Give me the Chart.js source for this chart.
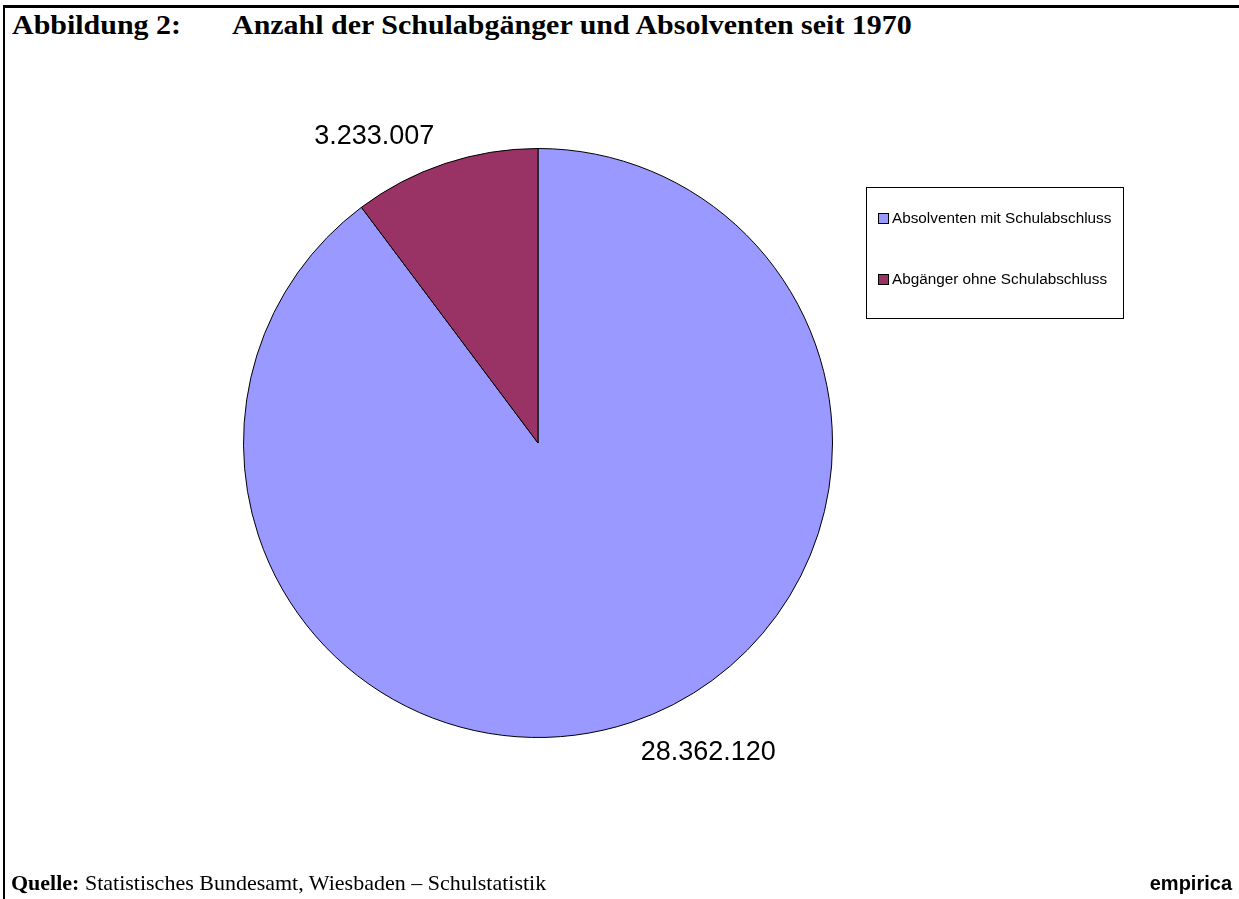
<!DOCTYPE html>
<html lang="de">
<head>
<meta charset="utf-8">
<title>Abbildung 2</title>
<script src="https://cdn.jsdelivr.net/npm/chart.js@4.4.1/dist/chart.umd.min.js"></script>
<style>
  html, body { margin: 0; padding: 0; background: #fff; }
  #page { position: relative; width: 1239px; height: 899px; overflow: hidden; }
  #frame { position: absolute; left: 3px; top: 5px; width: 1236px; height: 892px;
           border-top: 3px solid #000; border-left: 2px solid #000; }
  .title { position: absolute; top: 11px; font: bold 28px/28px "Liberation Serif", "Times New Roman", serif;
           white-space: nowrap; transform: scaleX(1.07); transform-origin: left top; }
  #t1 { left: 12px; }
  #t2 { left: 232px; }
  #source { position: absolute; left: 11px; top: 872px; font: 22px/22px "Liberation Serif", "Times New Roman", serif; white-space: nowrap; }
  #brand { position: absolute; right: 7px; top: 873px; font: bold 20px/20px "Liberation Sans", Arial, sans-serif; }
  canvas { position: absolute; left: 0; top: 0; }
</style>
</head>
<body>
<div id="page">
  <div id="frame"></div>
  <div class="title" id="t1">Abbildung 2:</div>
  <div class="title" id="t2">Anzahl der Schulabgänger und Absolventen seit 1970</div>
  <canvas id="pie" width="1239" height="899"></canvas>
  <div id="source"><b>Quelle:</b> Statistisches Bundesamt, Wiesbaden – Schulstatistik</div>
  <div id="brand">empirica</div>
</div>
<script>
'use strict';

// Daten
const categories = ["Absolventen mit Schulabschluss", "Abgänger ohne Schulabschluss"];
const values = [28362120, 3233007];
const sliceColors = ["#9999ff", "#993366"];

function fmt_de(n) {
  return String(n).replace(/\B(?=(\d{3})+(?!\d))/g, ".");
}

// Werte außerhalb der Segmente
const outsideLabels = {
  id: "outsideLabels",
  afterDatasetsDraw(chart) {
    const ctx = chart.ctx;
    const meta = chart.getDatasetMeta(0);
    ctx.save();
    ctx.font = '27px "Liberation Sans", Arial, sans-serif';
    ctx.fillStyle = "#000";
    meta.data.forEach((arc, i) => {
      const mid = (arc.startAngle + arc.endAngle) / 2;
      const r = arc.outerRadius + 18;
      const c = Math.cos(mid), s = Math.sin(mid);
      let x = arc.x + c * r;
      const y = arc.y + s * r;
      ctx.textAlign = c < 0 ? "right" : "left";
      x += c < 0 ? -5 : 4;
      ctx.textBaseline = s < 0 ? "alphabetic" : "top";
      ctx.fillText(fmt_de(values[i]), x, y - (s < 0 ? 3 : 0));
    });
    ctx.restore();
  }
};

// Legende mit Rahmen (wie Excel)
const boxedLegend = {
  id: "boxedLegend",
  afterDraw(chart) {
    const ctx = chart.ctx;
    const bx = 866, by = 187, bw = 257, bh = 131;
    ctx.save();
    ctx.strokeStyle = "#000";
    ctx.lineWidth = 1;
    ctx.strokeRect(bx + 0.5, by + 0.5, bw, bh);
    ctx.font = '15.3px "Liberation Sans", Arial, sans-serif';
    ctx.textBaseline = "middle";
    ctx.textAlign = "left";
    categories.forEach((label, i) => {
      const cy = by + 32 + i * 61;
      ctx.fillStyle = sliceColors[i];
      ctx.fillRect(bx + 12.5, cy - 5.5, 10, 10);
      ctx.strokeRect(bx + 12.5, cy - 5.5, 10, 10);
      ctx.fillStyle = "#000";
      ctx.fillText(label, bx + 26, cy);
    });
    ctx.restore();
  }
};

var pie_ctx = document.querySelector("#pie").getContext("2d");
new Chart(pie_ctx, {
  type: "pie",
  data: {
    labels: categories,
    datasets: [{
      data: values,
      backgroundColor: sliceColors,
      borderColor: "#000",
      borderWidth: 1,
      hoverOffset: 0
    }]
  },
  options: {
    responsive: false,
    animation: false,
    layout: { padding: { left: 242, top: 148, right: 405, bottom: 161 } },
    plugins: {
      legend: { display: false },
      tooltip: { enabled: false }
    }
  },
  plugins: [outsideLabels, boxedLegend]
});
</script>
</body>
</html>
